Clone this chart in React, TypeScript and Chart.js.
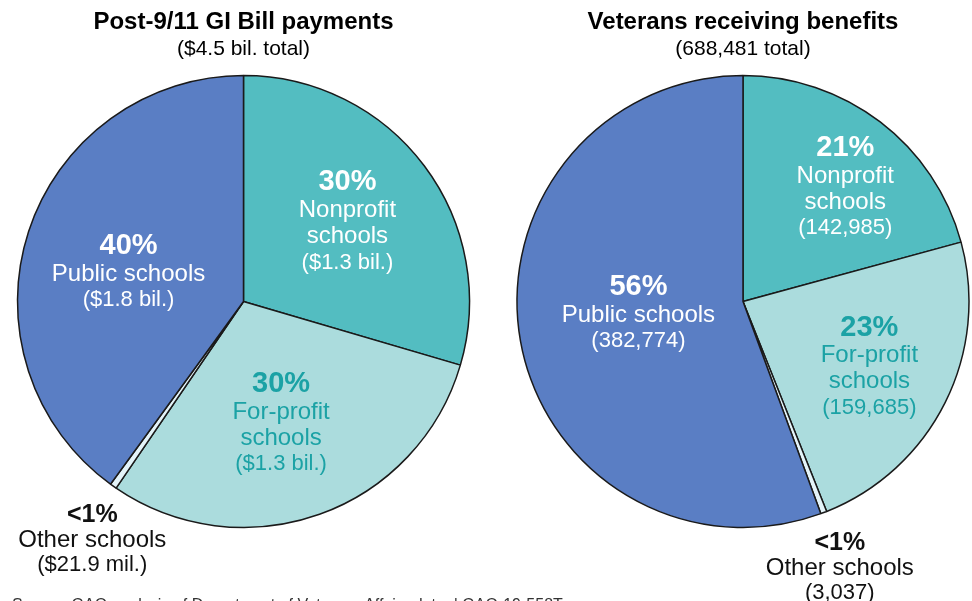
import React, { useEffect, useRef } from "react";
import { Chart, registerables } from "chart.js";

Chart.register(...registerables);

const FONT = "'Liberation Sans', Arial, Helvetica, sans-serif";

// Slice order (clockwise from 12 o'clock)
const categories = ["Nonprofit schools", "For-profit schools", "Other schools", "Public schools"];
const nameLines = [["Nonprofit", "schools"], ["For-profit", "schools"], ["Other schools"], ["Public schools"]];

// Left pie: Post-9/11 GI Bill payments (billions of dollars)
const paymentsTitle = "Post-9/11 GI Bill payments";
const paymentsSubtitle = "($4.5 bil. total)";
const paymentsBil = [1.33, 1.35, 0.0219, 1.8];
const paymentsValueLabels = ["($1.3 bil.)", "($1.3 bil.)", "($21.9 mil.)", "($1.8 bil.)"];

// Right pie: Veterans receiving benefits
const veteransTitle = "Veterans receiving benefits";
const veteransSubtitle = "(688,481 total)";
const veterans = [142985, 159685, 3037, 382774];
const veteransValueLabels = ["(142,985)", "(159,685)", "(3,037)", "(382,774)"];

const sourceText = "Source: GAO analysis of Department of Veterans Affairs data. | GAO-19-558T";

const sliceColors = ["#53BDC1", "#ABDCDD", "#E4F4F9", "#5A7EC4"];
const labelColors = ["#FFFFFF", "#1BA2A5", "#111111", "#FFFFFF"];

type Placement = { r: number; dx: number; dy: number };

const paymentsPlacement: Placement[] = [
  { r: 0.58, dx: -1, dy: -0.5 },
  { r: 0.56, dx: -5, dy: 3.5 },
  { r: 1.0, dx: -21, dy: 54 },
  { r: 0.535, dx: 0, dy: 9 },
];
const veteransPlacement: Placement[] = [
  { r: 0.68, dx: 9, dy: 8.5 },
  { r: 0.62, dx: 1, dy: 3.5 },
  { r: 1.0, dx: 16, dy: 55.5 },
  { r: 0.47, dx: 0, dy: -6 },
];

const sliceLabelsPlugin = {
  id: "sliceLabels",
  afterDatasetsDraw(chart: any, _args: any, opts: any) {
    const meta = chart.getDatasetMeta(0);
    const data = chart.data.datasets[0].data as number[];
    const total = data.reduce((a, b) => a + b, 0);
    const ctx = chart.ctx as CanvasRenderingContext2D;
    ctx.save();
    ctx.textAlign = "center";
    ctx.textBaseline = "middle";
    meta.data.forEach((arc: any, i: number) => {
      const p = arc.getProps(["x", "y", "startAngle", "endAngle", "outerRadius"], true);
      const mid = (p.startAngle + p.endAngle) / 2;
      const place: Placement = opts.placement[i];
      const cx = p.x + Math.cos(mid) * p.outerRadius * place.r + place.dx;
      const cy = p.y + Math.sin(mid) * p.outerRadius * place.r + place.dy;
      const pct = (data[i] / total) * 100;
      const small = pct < 1;
      const pctText = small ? "<1%" : Math.round(pct) + "%";
      const lines = [
        { text: pctText, font: small ? `bold 25px ${FONT}` : `bold 29px ${FONT}`, step: 0 },
        ...nameLines[i].map((t, k) => ({ text: t, font: `24px ${FONT}`, step: k === 0 ? (small ? 25 : 28) : 26 })),
        { text: opts.values[i], font: `22px ${FONT}`, step: small ? 25 : 26 },
      ];
      const offsets: number[] = [];
      let acc = 0;
      lines.forEach((ln) => {
        acc += ln.step;
        offsets.push(acc);
      });
      const y0 = cy - acc / 2;
      ctx.fillStyle = labelColors[i];
      lines.forEach((ln, k) => {
        ctx.font = ln.font;
        ctx.fillText(ln.text, cx, y0 + offsets[k]);
      });
    });
    ctx.restore();
  },
};

function PieChart(props: {
  title: string;
  subtitle: string;
  values: number[];
  valueLabels: string[];
  placement: Placement[];
  padLeft: number;
  padRight: number;
}) {
  const ref = useRef<HTMLCanvasElement>(null);
  useEffect(() => {
    if (!ref.current) return;
    const chart = new Chart(ref.current, {
      type: "pie",
      data: {
        labels: categories,
        datasets: [
          {
            data: props.values,
            backgroundColor: sliceColors,
            borderColor: "#1a1a1a",
            borderWidth: 1.5,
          },
        ],
      },
      options: {
        responsive: false,
        animation: false,
        radius: 226,
        layout: { padding: { top: 0, bottom: 73, left: props.padLeft, right: props.padRight } },
        plugins: {
          legend: { display: false },
          tooltip: { enabled: false },
          title: {
            display: true,
            text: props.title,
            color: "#000",
            font: { family: FONT, size: 24, weight: "bold" },
            padding: { top: 8, bottom: 0 },
          },
          subtitle: {
            display: true,
            text: props.subtitle,
            color: "#000",
            font: { family: FONT, size: 21, weight: "normal" },
            padding: { top: 0, bottom: 13 },
          },
          sliceLabels: { placement: props.placement, values: props.valueLabels },
        } as any,
      },
      plugins: [sliceLabelsPlugin],
    });
    return () => chart.destroy();
  }, []);
  return <canvas ref={ref} width={486} height={601} style={{ width: 486, height: 601, display: "block" }} />;
}

export default function App() {
  return (
    <div
      style={{
        position: "fixed",
        left: 0,
        top: 0,
        width: 972,
        height: 601,
        overflow: "hidden",
        background: "#fff",
      }}
    >
      <div style={{ position: "absolute", left: 0, top: 0 }}>
        <PieChart
          title={paymentsTitle}
          subtitle={paymentsSubtitle}
          values={paymentsBil}
          valueLabels={paymentsValueLabels}
          placement={paymentsPlacement}
          padLeft={17}
          padRight={16}
        />
      </div>
      <div style={{ position: "absolute", left: 486, top: 0 }}>
        <PieChart
          title={veteransTitle}
          subtitle={veteransSubtitle}
          values={veterans}
          valueLabels={veteransValueLabels}
          placement={veteransPlacement}
          padLeft={32}
          padRight={4}
        />
      </div>
      <div
        style={{
          position: "absolute",
          left: 12,
          top: 596,
          fontFamily: FONT,
          fontSize: 16,
          lineHeight: "18px",
          color: "#333",
          whiteSpace: "nowrap",
        }}
      >
        {sourceText}
      </div>
    </div>
  );
}
